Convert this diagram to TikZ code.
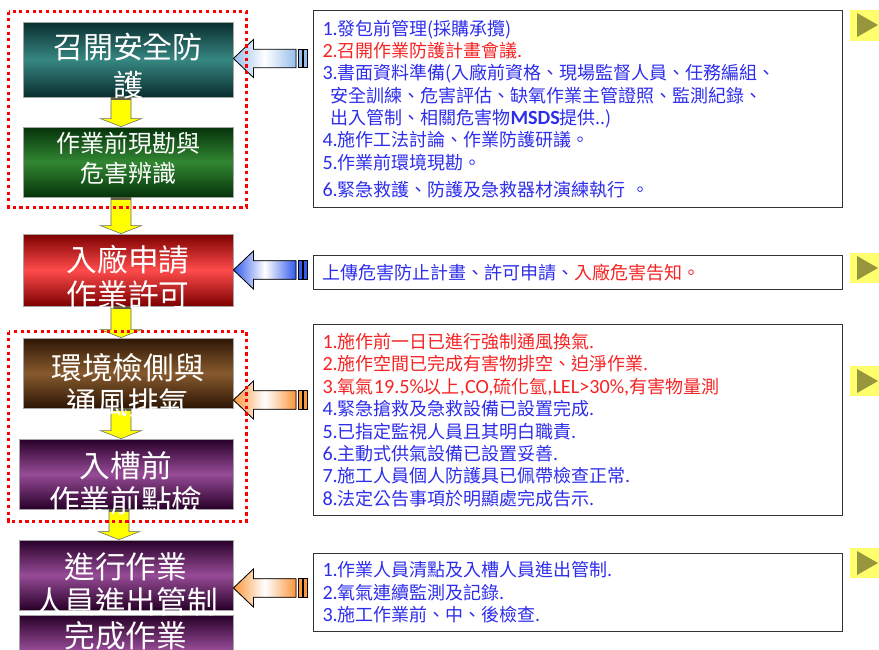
\documentclass[tikz,border=0pt]{standalone}
\usepackage{fontspec}
\setmainfont{Noto Sans CJK TC}
\newfontfamily\latinfont[Scale=1.12]{Carlito}
\usetikzlibrary{calc}

\definecolor{tealdark}{RGB}{8,45,45}
\definecolor{teallight}{RGB}{55,135,130}
\definecolor{greendark}{RGB}{5,50,10}
\definecolor{greenlight}{RGB}{50,135,50}
\definecolor{reddark}{RGB}{125,0,0}
\definecolor{redlight}{RGB}{255,75,75}
\definecolor{browndark}{RGB}{45,22,5}
\definecolor{brownlight}{RGB}{135,90,45}
\definecolor{plumdark}{RGB}{40,0,40}
\definecolor{plumlight}{RGB}{150,75,150}
\definecolor{noteblue}{RGB}{45,45,235}
\definecolor{notered}{RGB}{245,35,35}
\definecolor{arrowyellow}{RGB}{255,255,0}
\definecolor{arrowsky}{RGB}{150,190,235}
\definecolor{arrowblue}{RGB}{50,90,235}
\definecolor{arroworange}{RGB}{250,150,60}
\definecolor{markyellow}{RGB}{255,255,110}
\definecolor{markolive}{RGB}{150,150,60}

\newcommand\itemno[1]{{\latinfont #1}}

% yellow arrow from one step down to the next
\newcommand\fallarrow[2]{%
  \filldraw[fallbody] let \p1=($(#1.south)+(-7,0)$), \p2=(#2.north) in
    (\x1-7.5pt,\y1) -- (\x1+7.5pt,\y1) -- (\x1+7.5pt,\y2+6pt) -- (\x1+15.5pt,\y2+6pt)
    -- (\x1,\y2) -- (\x1-15.5pt,\y2+6pt) -- (\x1-7.5pt,\y2+6pt) -- cycle;
  \draw[fallcap] let \p1=($(#1.south)+(-7,0)$) in
    (\x1-7.5pt,\y1-0.8pt) -- (\x1+7.5pt,\y1-0.8pt);
}

% block arrow from a note box to its step
\newcommand\pullarrow[4]{%
  \filldraw[pullbody, left color=#1, right color=#1, middle color=white]
    let \p1=(#2.west), \p2=($(#3.east)+(0,#4)$) in
    (\x2,\y2) -- (\x2+15pt,\y2+14.25pt) -- (\x2+15pt,\y2+7pt) -- (\x1-12.75pt,\y2+7pt)
    -- (\x1-12.75pt,\y2-7pt) -- (\x2+15pt,\y2-7pt) -- (\x2+15pt,\y2-14.25pt) -- cycle;
  \filldraw[pullbody, fill=#1] let \p1=(#2.west), \p2=($(#3.east)+(0,#4)$) in
    (\x1-11.25pt,\y2-7pt) rectangle (\x1-8.25pt,\y2+7pt)
    (\x1-7.5pt,\y2-7pt) rectangle (\x1-4.5pt,\y2+7pt);
}

\begin{document}
\begin{tikzpicture}[x=0.75pt, y=-0.75pt]
\tikzset{
  stepbox/.style={draw=gray!70, line width=0.6pt, minimum width=157.5pt, minimum height=52.5pt, inner sep=0pt},
  teal step/.style={top color=tealdark, bottom color=tealdark, middle color=teallight},
  green step/.style={top color=greendark, bottom color=greendark, middle color=greenlight},
  red step/.style={top color=reddark, bottom color=reddark, middle color=redlight},
  brown step/.style={top color=browndark, bottom color=browndark, middle color=brownlight},
  plum step/.style={top color=plumdark, bottom color=plumdark, middle color=plumlight},
  steptext/.style={text=white, align=center, inner sep=0pt, font=\fontsize{23pt}{26.25pt}\selectfont},
  notebox/.style={draw=black!80, line width=0.75pt, anchor=north west, text width=383.25pt, inner xsep=6.75pt, inner ysep=0pt, align=left, text=noteblue, font=\fontsize{13.5pt}{16.75pt}\selectfont},
  fallbody/.style={fill=arrowyellow, draw=black!60, line width=0.4pt},
  fallcap/.style={draw=black!70!yellow, line width=1.6pt},
  pullbody/.style={draw=black, line width=0.6pt},
  redframe/.style={draw=red, line width=2.4pt, dash pattern=on 2.4pt off 2.6pt},
  markbg/.style={fill=markyellow},
  markfg/.style={fill=markolive}
}
\useasboundingbox (0,0) rectangle (879,650);
\clip (0,0) rectangle (879,650);

% steps on the left
\node[stepbox, teal step, minimum height=56.25pt] (meet) at (128,59.5) {};
\node[stepbox, green step] (survey) at (128,162) {};
\node[stepbox, red step, minimum height=54pt] (permit) at (128,270) {};
\node[stepbox, brown step] (venting) at (128,373) {};
\node[stepbox, plum step, minimum width=160.5pt] (precheck) at (126,474) {};
\node[stepbox, plum step, minimum width=160.5pt] (working) at (126,575) {};
\node[stepbox, plum step, minimum width=160.5pt] (finish) at (126,650) {};

% notes on the right
\node[notebox, minimum height=147.75pt] (plan) at (313,10) {%
\itemno{1.}發包前管理(採購承攬)\\
\textcolor{notered}{\itemno{2.}召開作業防護計畫會議.}\\
\itemno{3.}書面資料準備(入廠前資格、現場監督人員、任務編組、\\
\hspace*{6pt}安全訓練、危害評估、缺氧作業主管證照、監測紀錄、\\
\hspace*{6pt}出入管制、相關危害物{\latinfont\bfseries MSDS}提供..)\\
\itemno{4.}施作工法討論、作業防護研議。\\
\itemno{5.}作業前環境現勘。\\[4pt]
\itemno{6.}緊急救護、防護及急救器材演練執行 。};
\node[notebox, minimum height=25.5pt] (upload) at (313,255) {%
上傳危害防止計畫、許可申請、\textcolor{notered}{入廠危害告知。}};
\node[notebox, minimum height=143.25pt, font=\fontsize{13.5pt}{16.8pt}\selectfont] (checks) at (313,324) {%
\textcolor{notered}{\itemno{1.}施作前一日已進行強制通風換氣.}\\
\textcolor{notered}{\itemno{2.}施作空間已完成有害物排空、迫淨作業.}\\
\textcolor{notered}{\itemno{3.}氧氣{\latinfont 19.5\%}以上{\latinfont ,CO,}硫化氫{\latinfont ,LEL>30\%,}有害物量測}\\
\itemno{4.}緊急搶救及急救設備已設置完成.\\
\itemno{5.}已指定監視人員且其明白職責.\\
\itemno{6.}主動式供氣設備已設置妥善.\\
\itemno{7.}施工人員個人防護具已佩帶檢查正常.\\
\itemno{8.}法定公告事項於明顯處完成告示.};
\node[notebox, minimum height=58.5pt, font=\fontsize{13.5pt}{16.9pt}\selectfont] (inside) at (313,553) {%
\itemno{1.}作業人員清點及入槽人員進出管制.\\
\itemno{2.}氧氣連續監測及記錄.\\
\itemno{3.}施工作業前、中、後檢查.};

% arrows
\fallarrow{meet}{survey}
\fallarrow{survey}{permit}
\fallarrow{permit}{venting}
\fallarrow{venting}{precheck}
\fallarrow{precheck}{working}
\pullarrow{arrowsky}{plan}{meet}{-1}
\pullarrow{arrowblue}{upload}{permit}{0}
\pullarrow{arroworange}{checks}{venting}{27}
\pullarrow{arroworange}{inside}{working}{13}

% dotted frames
\draw[redframe] ($(meet.north west)+(-14,-10)$) rectangle ($(survey.south east)+(13,10)$);
\draw[redframe] ($(venting.north west)+(-14,-6)$) rectangle ($(precheck.south east)+(13,12)$);

% step labels
\node[steptext, font=\fontsize{22.5pt}{28.5pt}\selectfont] (meettext) at (128,66) {召開安全防\\護};
\node[steptext, font=\fontsize{18pt}{22.5pt}\selectfont] (surveytext) at (128,158) {作業前現勘與\\危害辨識};
\node[steptext] (permittext) at (128,277.5) {入廠申請\\作業許可};
\node[steptext] (ventingtext) at (128,385) {環境檢側與\\通風排氣};
\node[steptext] (prechecktext) at (126,483.5) {入槽前\\作業前點檢};
\node[steptext] (workingtext) at (126,584) {進行作業\\人員進出管制};
\node[steptext] (finishtext) at (126,636) {完成作業};

% play marks
\fill[markbg] (850,10) rectangle (879,41);
\fill[markfg] (857,13) -- (878,25) -- (857,37) -- cycle;
\fill[markbg] (850,253) rectangle (879,283);
\fill[markfg] (857,256) -- (878,268) -- (857,280) -- cycle;
\fill[markbg] (850,366) rectangle (879,396);
\fill[markfg] (857,369) -- (878,381) -- (857,393) -- cycle;
\fill[markbg] (850,548) rectangle (879,578);
\fill[markfg] (857,551) -- (878,563) -- (857,575) -- cycle;
\end{tikzpicture}
\end{document}
